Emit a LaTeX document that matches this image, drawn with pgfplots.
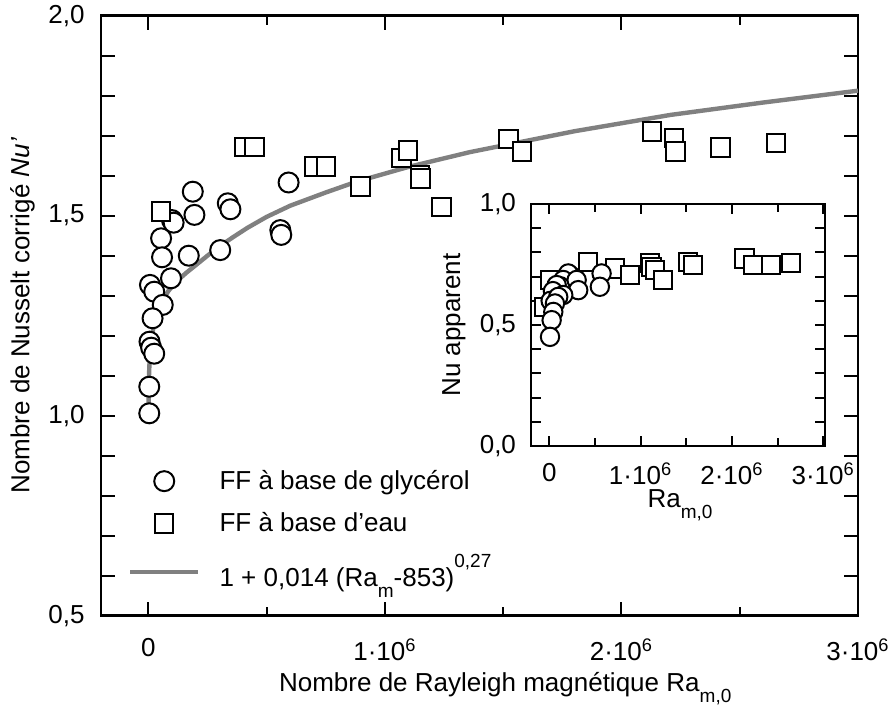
\documentclass[border=0pt]{standalone}
\usepackage{fontspec}
\setmainfont{Liberation Sans}
\usepackage{pgfplots}
\pgfplotsset{compat=1.18}
\usetikzlibrary{calc}

\definecolor{fitgray}{RGB}{128,128,128}
% low subscript / high superscript as in the original figure
\newcommand{\lsub}[1]{\raisebox{-0.42em}{\fontsize{9.5}{9.5}\selectfont #1}}
\newcommand{\hsup}[1]{\raisebox{0.72em}{\fontsize{9.5}{9.5}\selectfont #1}}

\pgfplotsset{
  nuaxis/.style={
    scale only axis,
    tick align=inside,
    axis line style={line width=1.3pt},
    every tick/.style={black, line width=1pt},
    xtick={0,1e6,2e6,3e6},
    xticklabels={0,1·10\textsuperscript{6},2·10\textsuperscript{6},3·10\textsuperscript{6}},
    minor x tick num=1,
    scaled x ticks=false,
  },
  circ/.style={only marks, mark=*, mark size=5pt,
    mark options={fill=white, draw=black, line width=1pt}},
  sq/.style={only marks, mark=square*, mark size=4.6pt,
    mark options={fill=white, draw=black, line width=1pt}},
  markleg/.style={legend image code/.code={
    \path[draw=none, fill=none] (0cm,-0.1cm) rectangle (1.2cm,0.1cm);
    \draw plot coordinates {(0.6cm,0cm)};}},
}

\begin{document}
\begin{tikzpicture}[font=\fontsize{13}{15.6}\selectfont]
\begin{axis}[nuaxis, name=main, at={(0,0)}, anchor=south west,
  width=378.5pt, height=300pt,
  xmin=-0.2e6, xmax=3e6, ymin=0.5, ymax=2,
  ytick={0.5,0.6,0.7,0.8,0.9,1.0,1.1,1.2,1.3,1.4,1.5,1.6,1.7,1.8,1.9,2.0},
  yticklabels={{0,5},,,,,{1,0},,,,,{1,5},,,,,{2,0}},
  major tick length=7pt, minor tick length=4.5pt,
  xticklabel style={yshift=-8pt},
  yticklabel style={xshift=-4.7pt},
  xlabel={Nombre de Rayleigh magnétique Ra\lsub{m,0}},
  ylabel={Nombre de Nusselt corrigé \textit{Nu'}},
  xlabel style={at={(axis description cs:0.534,-0.127)}, anchor=base},
  ylabel style={at={(axis description cs:-0.1037,0.5)}, anchor=center},
  legend cell align=left,
  legend style={draw=none, fill=none, at={(axis description cs:0.035,0.25)},
    anchor=north west, row sep=6pt, column sep=7.5pt, inner sep=0pt},
]
% FF a base de glycerol
\addplot[circ, markleg] coordinates {
  (7000,1.327) (25000,1.31) (61000,1.277) (18000,1.2435) (5000,1.185)
  (12000,1.17) (25000,1.155) (4000,1.0725) (4000,1.006)
  (54000,1.4435) (58000,1.396) (96000,1.3435) (100000,1.489) (107000,1.4825)
  (188000,1.56) (195000,1.502) (171000,1.40) (304000,1.414)
  (336000,1.531) (347000,1.516) (558000,1.464) (562000,1.452) (593000,1.583)
};
\addlegendentry{FF à base de glycérol}
% FF a base d'eau
\addplot[sq, markleg] coordinates {
  (54000,1.51) (407000,1.671) (449000,1.671) (703000,1.6225) (750000,1.6225)
  (897000,1.5725) (1071000,1.6435) (1099000,1.6625) (1148000,1.60)
  (1151000,1.593) (1240000,1.521) (1523000,1.691) (1579000,1.66)
  (2130000,1.71) (2222000,1.6935) (2229000,1.66) (2419000,1.67) (2653000,1.681)
};
\addlegendentry{FF à base d'eau}
% correlation
\addplot[fitgray, line width=2.2pt, legend image code/.code={
    \draw (0cm,0cm) -- (1.2cm,0cm);}] coordinates {
  (1000,1.03) (2000,1.08) (3500,1.11) (6000,1.145) (11000,1.18) (20000,1.215)
  (30000,1.24) (40000,1.26) (60000,1.287) (85000,1.312) (120000,1.336)
  (160000,1.357) (200000,1.376) (250000,1.400) (300000,1.423) (360000,1.447)
  (420000,1.470) (500000,1.497) (600000,1.525) (750000,1.558) (880000,1.585)
  (1100000,1.622) (1360000,1.659) (1800000,1.711) (2208000,1.752)
  (2600000,1.783) (3000000,1.8125)
};
\addlegendentry{1 + 0,014 (Ra\lsub{m}-853)\hsup{0,27}}
\end{axis}

\begin{axis}[nuaxis, name=inset,
  at={($(main.south west)+(215pt,84.85pt)$)}, anchor=south west,
  width=147pt, height=121pt,
  xmin=-0.2e6, xmax=3.02e6, ymin=0, ymax=1,
  ytick={0,0.1,0.2,0.3,0.4,0.5,0.6,0.7,0.8,0.9,1.0},
  yticklabels={{0,0},,,,,{0,5},,,,,{1,0}},
  major tick length=5pt, minor tick length=4pt,
  xticklabel style={yshift=-5pt},
  yticklabel style={xshift=-4pt},
  xlabel={Ra\lsub{m,0}},
  ylabel={Nu apparent},
  xlabel style={at={(axis description cs:0.507,-0.256)}, anchor=base},
  ylabel style={at={(axis description cs:-0.262,0.5)}, anchor=center},
]
\addplot[sq] coordinates {
  (-60000,0.575) (8000,0.686) (426000,0.761) (718000,0.734) (882000,0.706)
  (1100000,0.755) (1120000,0.74) (1155000,0.727) (1246000,0.686)
  (1519000,0.761) (1574000,0.748) (2139000,0.775) (2230000,0.748)
  (2430000,0.748) (2649000,0.757)
};
\addplot[circ, mark size=4.6pt] coordinates {
  (250000,0.70) (208000,0.713) (153000,0.686) (120000,0.66) (81000,0.665)
  (573000,0.713) (554000,0.658) (300000,0.686) (317000,0.644)
  (40000,0.64) (15000,0.60) (153000,0.624) (98000,0.616) (62000,0.589)
  (44000,0.554) (26000,0.52) (8000,0.451)
};
\end{axis}

\pgfresetboundingbox
\path[use as bounding box] ($(main.south west)+(-50.5pt,-49.65pt)$)
  rectangle ($(main.north east)+(17pt,7.85pt)$);
\end{tikzpicture}
\end{document}
